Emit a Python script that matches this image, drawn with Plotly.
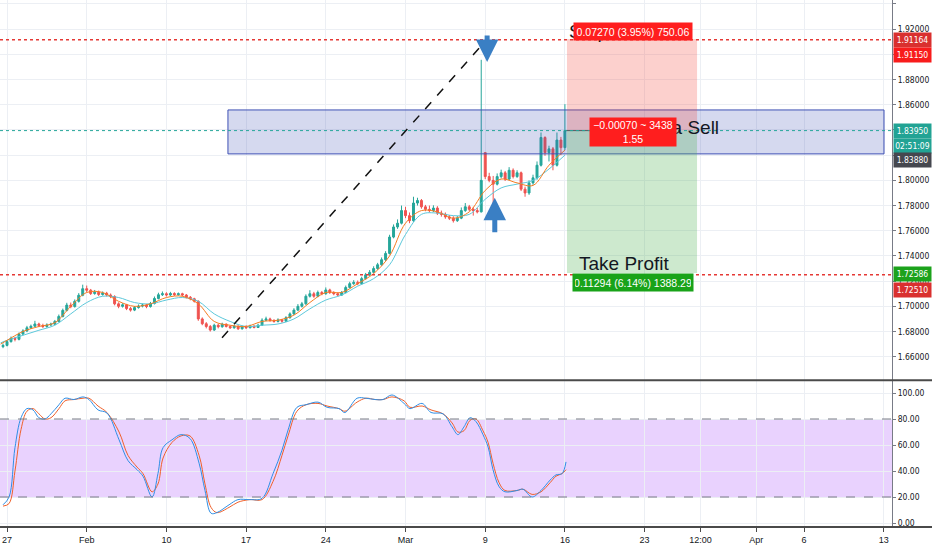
import plotly.graph_objects as go
import numpy as np

# ---- data (4 candles per trading day, day 0 = Jan 27) ----
closes = [
    1.6690, 1.6720, 1.6745, 1.6738, 1.6780, 1.6805, 1.6830, 1.6842, 1.6860, 1.6848,
    1.6840, 1.6852, 1.6858, 1.6880, 1.6920, 1.6968, 1.7010, 1.6998, 1.7040, 1.7088,
    1.7140, 1.7128, 1.7102, 1.7112, 1.7094, 1.7104, 1.7090, 1.7078, 1.7020, 1.7000,
    1.7012, 1.6982, 1.6970, 1.6990, 1.7002, 1.7010, 1.6998, 1.7022, 1.7062, 1.7092,
    1.7100, 1.7090, 1.7102, 1.7092, 1.7100, 1.7090, 1.7072, 1.7060, 1.7040, 1.6900,
    1.6862, 1.6840, 1.6812, 1.6850, 1.6838, 1.6858, 1.6840, 1.6830, 1.6842, 1.6822,
    1.6838, 1.6830, 1.6842, 1.6832, 1.6850, 1.6890, 1.6900, 1.6888, 1.6880, 1.6892,
    1.6882, 1.6910, 1.6940, 1.6970, 1.7000, 1.7020, 1.7080, 1.7100, 1.7080, 1.7110,
    1.7100, 1.7130, 1.7110, 1.7100, 1.7090, 1.7110, 1.7150, 1.7180, 1.7190, 1.7180,
    1.7220, 1.7250, 1.7270, 1.7300, 1.7330, 1.7370, 1.7420, 1.7550, 1.7630, 1.7660,
    1.7760, 1.7720, 1.7680, 1.7820, 1.7840, 1.7790, 1.7770, 1.7760, 1.7780, 1.7740,
    1.7730, 1.7710, 1.7700, 1.7680, 1.7700, 1.7760, 1.7790, 1.7770, 1.7760, 1.7750,
    1.8000, 1.8030, 1.8000, 1.7970, 1.8030, 1.8060, 1.8010, 1.8080, 1.8030, 1.8060,
    1.7930, 1.7900, 1.7980, 1.8020, 1.8120, 1.8340, 1.8220, 1.8250, 1.8120, 1.8320,
    1.8260, 1.8395,
]
highs = [
    1.6705, 1.6732, 1.6760, 1.6758, 1.6792, 1.6818, 1.6845, 1.6855, 1.6885, 1.6870,
    1.6862, 1.6865, 1.6870, 1.6892, 1.6935, 1.6982, 1.7028, 1.7030, 1.7055, 1.7105,
    1.7172, 1.7165, 1.7138, 1.7130, 1.7125, 1.7118, 1.7115, 1.7102, 1.7088, 1.7032,
    1.7025, 1.7020, 1.6995, 1.7002, 1.7015, 1.7022, 1.7020, 1.7035, 1.7078, 1.7108,
    1.7118, 1.7112, 1.7115, 1.7112, 1.7110, 1.7108, 1.7098, 1.7082, 1.7068, 1.7048,
    1.6912, 1.6875, 1.6852, 1.6862, 1.6860, 1.6870, 1.6865, 1.6850, 1.6852, 1.6850,
    1.6848, 1.6850, 1.6855, 1.6850, 1.6862, 1.6905, 1.6918, 1.6910, 1.6898, 1.6905,
    1.6900, 1.6922, 1.6952, 1.6985, 1.7018, 1.7035, 1.7095, 1.7128, 1.7115, 1.7125,
    1.7122, 1.7150, 1.7140, 1.7120, 1.7112, 1.7122, 1.7165, 1.7195, 1.7208, 1.7205,
    1.7235, 1.7265, 1.7288, 1.7318, 1.7345, 1.7388, 1.7438, 1.7568, 1.7650, 1.7690,
    1.7800, 1.7790, 1.7745, 1.7870, 1.7862, 1.7852, 1.7805, 1.7800, 1.7802, 1.7795,
    1.7760, 1.7745, 1.7725, 1.7715, 1.7718, 1.7785, 1.7820, 1.7805, 1.7790, 1.7782,
    1.8957, 1.8225, 1.8060, 1.8035, 1.8055, 1.8085, 1.8075, 1.8105, 1.8095, 1.8080,
    1.8070, 1.7950, 1.8000, 1.8045, 1.8150, 1.8380, 1.8350, 1.8275, 1.8265, 1.8380,
    1.8345, 1.8605,
]
lows = [
    1.6668, 1.6682, 1.6712, 1.6722, 1.6730, 1.6770, 1.6795, 1.6820, 1.6835, 1.6835,
    1.6828, 1.6830, 1.6842, 1.6850, 1.6872, 1.6912, 1.6960, 1.6985, 1.6990, 1.7030,
    1.7080, 1.7112, 1.7090, 1.7092, 1.7082, 1.7085, 1.7078, 1.7065, 1.7008, 1.6985,
    1.6990, 1.6970, 1.6958, 1.6962, 1.6982, 1.6992, 1.6985, 1.6990, 1.7015, 1.7055,
    1.7082, 1.7078, 1.7080, 1.7082, 1.7085, 1.7078, 1.7062, 1.7048, 1.7030, 1.6885,
    1.6850, 1.6825, 1.6800, 1.6805, 1.6825, 1.6830, 1.6832, 1.6820, 1.6822, 1.6812,
    1.6815, 1.6822, 1.6825, 1.6825, 1.6828, 1.6845, 1.6882, 1.6878, 1.6870, 1.6872,
    1.6870, 1.6875, 1.6902, 1.6932, 1.6962, 1.6990, 1.7012, 1.7070, 1.7068, 1.7072,
    1.7088, 1.7092, 1.7098, 1.7088, 1.7078, 1.7082, 1.7102, 1.7142, 1.7170, 1.7168,
    1.7172, 1.7212, 1.7240, 1.7262, 1.7290, 1.7322, 1.7360, 1.7412, 1.7540, 1.7615,
    1.7650, 1.7700, 1.7660, 1.7670, 1.7800, 1.7775, 1.7755, 1.7745, 1.7748, 1.7725,
    1.7712, 1.7695, 1.7685, 1.7665, 1.7670, 1.7692, 1.7750, 1.7755, 1.7720, 1.7738,
    1.7745, 1.8010, 1.7985, 1.7780, 1.7960, 1.8015, 1.7995, 1.8000, 1.8015, 1.8020,
    1.7915, 1.7870, 1.7885, 1.7965, 1.8005, 1.8110, 1.8195, 1.8150, 1.8080, 1.8110,
    1.8200, 1.8240,
]
first_open = 1.6680
gap_opens = {121: 1.8220}  # Monday Mar 9 gap

# moving averages (read once per trading day)
ma_days = [-0.4] + list(range(36))
ma_fast = [1.670, 1.673, 1.680, 1.684, 1.687, 1.700, 1.711, 1.711, 1.704, 1.700,
           1.702, 1.707, 1.708, 1.702, 1.688, 1.685, 1.684, 1.688, 1.689, 1.693,
           1.703, 1.711, 1.711, 1.718, 1.726, 1.740, 1.766, 1.776, 1.775, 1.770,
           1.775, 1.792, 1.801, 1.798, 1.796, 1.812, 1.824]
ma_slow = [1.671, 1.673, 1.677, 1.681, 1.685, 1.694, 1.703, 1.708, 1.707, 1.703,
           1.702, 1.705, 1.707, 1.704, 1.694, 1.688, 1.684, 1.685, 1.686, 1.690,
           1.698, 1.705, 1.709, 1.716, 1.722, 1.733, 1.757, 1.773, 1.774, 1.772,
           1.773, 1.785, 1.794, 1.797, 1.800, 1.809, 1.820]

# stochastic
stoch_days = [-0.25, 0.13, 0.5, 0.88, 1.25, 1.63, 2.0, 2.38, 2.76, 3.26,
              3.64, 4.2, 4.77, 5.14, 5.71, 6.27, 7.03, 7.59, 8.16, 8.53,
              9.1, 9.47, 9.79, 10.35, 10.92, 11.48, 12.05, 12.42, 12.8, 13.17,
              13.93, 14.49, 15.24, 16.0, 16.69, 17.25, 17.63, 18.19, 18.76, 19.51,
              20.08, 20.83, 21.2, 21.96, 22.52, 23.09, 23.59, 24.15, 24.91, 25.28,
              26.04, 26.6, 27.35, 27.92, 28.29, 28.67, 29.05, 29.42, 29.86, 30.18,
              30.49, 30.87, 31.24, 31.99, 32.37, 32.94, 33.5, 34.07, 34.44, 34.82,
              35.07]
stoch_k = [14, 20, 58, 81, 88, 87, 81, 80, 84, 91,
           96, 95, 97, 95, 87, 84.6, 64, 48, 41, 36,
           20, 38, 58, 64, 68, 65, 46, 25, 7.5, 8,
           14, 18, 18, 19, 38, 56, 71.5, 89, 91, 93,
           89, 88, 85, 96, 96, 95, 95, 98.5, 92, 88,
           92, 85, 84, 74, 68, 74, 81, 78, 68, 58.5,
           41, 28, 24, 25, 26, 20, 25, 33, 37, 38,
           47]
stoch_d = [13, 15, 40, 72, 86, 88, 84, 80, 81, 88,
           94, 95, 96, 96, 90, 85, 70, 52, 43, 38,
           24, 30, 50, 62, 67, 67, 52, 30, 12, 8,
           12, 16, 18, 18, 32, 52, 67, 86, 91, 92,
           90, 88, 86, 93, 96, 95, 95, 97, 94, 89,
           90, 87, 84, 77, 70, 71, 79, 80, 71, 62,
           46, 31, 25, 25, 26, 22, 24, 31, 36, 38,
           41]

tick_days = [0, 5, 10, 15, 20, 25, 30, 35, 40, 43.5, 47, 50, 55]
tick_text = ["27", "Feb", "10", "17", "24", "Mar", "9", "16", "23", "12:00", "Apr", "6", "13"]

# drawings
entry = 1.8395
stop_dist, stop_pct, stop_amt = 0.07270, 3.95, 750.06
tp_dist, tp_pct, tp_amt = 0.11294, 6.14, 1388.29
pos_days = (35.13, 43.29)
resist_level = 1.91164
support_level = 1.72510
zone_days = (13.86, 55.02)
zone_prices = (1.8210, 1.8559)
trend_days = (13.49, 29.8)
trend_prices = (1.6751, 1.9075)
side_tags = [("1.91164", 1.91164, 0, "#d9302f"), ("1.91150", 1.91150, -15, "#f81c1c"),
             ("1.83950", 1.83950, 0, "#22a394"), ("02:51:09", 1.83950, -15, "#22a394"),
             ("1.83880", 1.83880, -29, "#45474f"),
             ("1.72586", 1.72586, 0, "#1ca21c"), ("1.72510", 1.72510, -15, "#d9302f")]

# ---- build ----
opens = [first_open] + closes[:-1]
for k, v in gap_opens.items():
    opens[k] = v
candle_x = np.arange(len(closes)) / 4 - 0.25

x_range = [-0.44, 55.52]
FONT = "Liberation Sans, Arial, sans-serif"
AXFONT = "Liberation Sans Narrow, DejaVu Sans Condensed, Liberation Sans, sans-serif"

fig = go.Figure()
fig.add_trace(go.Candlestick(
    x=candle_x, open=opens, high=highs, low=lows, close=closes,
    increasing=dict(line=dict(color="#26a69a", width=1), fillcolor="#26a69a"),
    decreasing=dict(line=dict(color="#ef5350", width=1), fillcolor="#ef5350"),
    whiskerwidth=0, xaxis="x", yaxis="y", showlegend=False,
))
fig.add_trace(go.Scatter(x=ma_days, y=ma_slow, mode="lines", line=dict(color="#5cc8da", width=1, shape="spline"),
                         xaxis="x", yaxis="y", showlegend=False))
fig.add_trace(go.Scatter(x=ma_days, y=ma_fast, mode="lines", line=dict(color="#f57c20", width=1, shape="spline"),
                         xaxis="x", yaxis="y", showlegend=False))
fig.add_trace(go.Scatter(x=stoch_days, y=stoch_d, mode="lines", line=dict(color="#f0602a", width=1, shape="spline"),
                         xaxis="x", yaxis="y2", showlegend=False))
fig.add_trace(go.Scatter(x=stoch_days, y=stoch_k, mode="lines", line=dict(color="#2f8fe6", width=1, shape="spline"),
                         xaxis="x", yaxis="y2", showlegend=False))

shapes = []
# stochastic band
shapes.append(dict(type="rect", xref="x", yref="y2", x0=x_range[0], x1=x_range[1], y0=20, y1=80,
                   fillcolor="rgba(153,50,250,0.22)", line=dict(width=0), layer="below"))
for lvl in (20, 80):
    shapes.append(dict(type="line", xref="x", yref="y2", x0=x_range[0], x1=x_range[1], y0=lvl, y1=lvl,
                       line=dict(color="#787b86", width=1, dash="dash")))
# sell zone
shapes.append(dict(type="rect", xref="x", yref="y", x0=zone_days[0], x1=zone_days[1],
                   y0=zone_prices[0], y1=zone_prices[1],
                   fillcolor="rgba(63,81,181,0.22)", line=dict(color="#3f51b5", width=1)))
# short position tool
shapes.append(dict(type="rect", xref="x", yref="y", x0=pos_days[0], x1=pos_days[1],
                   y0=entry, y1=entry + stop_dist, fillcolor="rgba(244,67,54,0.25)", line=dict(width=0)))
shapes.append(dict(type="rect", xref="x", yref="y", x0=pos_days[0], x1=pos_days[1],
                   y0=entry - tp_dist, y1=entry, fillcolor="rgba(76,175,80,0.28)", line=dict(width=0)))
shapes.append(dict(type="line", xref="x", yref="y", x0=candle_x[-1], x1=pos_days[0] + 1.5, y0=entry, y1=entry,
                   line=dict(color="#555861", width=1)))
# horizontal levels
for lvl in (resist_level, support_level):
    shapes.append(dict(type="line", xref="x", yref="y", x0=x_range[0], x1=x_range[1], y0=lvl, y1=lvl,
                       line=dict(color="#e53935", width=1.5, dash="dot")))
shapes.append(dict(type="line", xref="x", yref="y", x0=x_range[0], x1=x_range[1], y0=entry, y1=entry,
                   line=dict(color="#26a69a", width=1, dash="dot")))
# trend line
shapes.append(dict(type="line", xref="x", yref="y", x0=trend_days[0], x1=trend_days[1],
                   y0=trend_prices[0], y1=trend_prices[1], line=dict(color="#111111", width=1.5, dash="dash")))
# pane separator and bottom line
shapes.append(dict(type="line", xref="paper", yref="paper", x0=0, x1=1.05, y0=0.2785, y1=0.2785,
                   line=dict(color="#4a4a4a", width=2)))
shapes.append(dict(type="line", xref="paper", yref="paper", x0=0, x1=1.05, y0=0, y1=0,
                   line=dict(color="#4a4a4a", width=2)))

ann = []
stop_label_y = entry + stop_dist + 0.0058
ann.append(dict(x=pos_days[0], y=stop_label_y, xref="x", yref="y", text="Stop Loss",
                showarrow=False, xanchor="left", font=dict(size=19, color="#131722", family=FONT)))
ann.append(dict(x=44.8, y=1.8417, xref="x", yref="y", text="Area Sell", showarrow=False, xanchor="right",
                font=dict(size=19, color="#131722", family=FONT)))
ann.append(dict(x=pos_days[0] + 0.6, y=entry - tp_dist + 0.0078, xref="x", yref="y", text="Take Profit",
                showarrow=False, xanchor="left", font=dict(size=19, color="#131722", family=FONT)))
ann.append(dict(x=39.27, y=stop_label_y, xref="x", yref="y",
                text=f"{stop_dist:.5f} ({stop_pct:.2f}%) {stop_amt:.2f}", showarrow=False,
                bgcolor="#ff1e1e", borderpad=2, width=114, height=13,
                font=dict(size=10.5, color="white", family=FONT)))
ann.append(dict(x=39.27, y=entry - tp_dist - 0.0078, xref="x", yref="y",
                text=f"{tp_dist:.5f} ({tp_pct:.2f}%) {tp_amt:.2f}", showarrow=False,
                bgcolor="#19a319", borderpad=2, width=116, height=13,
                font=dict(size=10.5, color="white", family=FONT)))
ann.append(dict(x=39.27, y=entry - 0.001, xref="x", yref="y",
                text="\u22120.00070 ~ 3438<br>1.55", showarrow=False,
                bgcolor="#ff1e1e", borderpad=1, width=84, font=dict(size=10.5, color="white", family=FONT)))
# arrows
ann.append(dict(x=30.12, y=1.8940, xref="x", yref="y", ax=0, ay=-28, showarrow=True, text="",
                arrowhead=2, arrowsize=0.9, arrowwidth=5, arrowcolor="#3a7fc4"))
ann.append(dict(x=30.6, y=1.7861, xref="x", yref="y", ax=0, ay=36, showarrow=True, text="",
                arrowhead=2, arrowsize=0.9, arrowwidth=5, arrowcolor="#3a7fc4"))
# price tags on the right axis
for txt, lvl, shift, col in side_tags:
    ann.append(dict(x=1.001, y=lvl, xref="paper", yref="y", yshift=shift, text=txt, showarrow=False,
                    xanchor="left", bgcolor=col, width=35, height=12, borderpad=1,
                    font=dict(size=8.5, color="white", family=AXFONT)))

axis_font = dict(size=8.5, color="#131722", family=AXFONT)
fig.update_layout(
    width=932, height=550,
    margin=dict(l=0, r=40, t=0, b=23),
    paper_bgcolor="white", plot_bgcolor="white",
    shapes=shapes, annotations=ann, showlegend=False,
    xaxis=dict(range=x_range, anchor="y2", tickvals=tick_days, ticktext=tick_text,
               showgrid=True, gridcolor="#eceff4", zeroline=False, ticks="outside", ticklen=4,
               tickcolor="#4a4a4a", tickfont=dict(size=9, color="#131722", family=FONT),
               rangeslider=dict(visible=False), fixedrange=True),
    yaxis=dict(domain=[0.2795, 1], range=[1.64176, 1.94317], side="right", anchor="x",
               tickvals=[round(1.66 + 0.02 * k, 2) for k in range(15)], tickformat=".5f",
               showgrid=True, gridcolor="#eceff4", zeroline=False, ticks="outside", ticklen=3,
               tickcolor="#787b86", showline=True, linecolor="#787b86", tickfont=axis_font),
    yaxis2=dict(domain=[0, 0.277], range=[-3.08, 109.23], side="right", anchor="x",
                tickvals=[0, 20, 40, 60, 80, 100], tickformat=".2f",
                showgrid=True, gridcolor="#eceff4", zeroline=False, ticks="outside", ticklen=3,
                tickcolor="#787b86", showline=True, linecolor="#787b86", tickfont=axis_font),
)

fig.write_html("out.html", config={"displayModeBar": False},
               post_script="document.body.style.margin='0';document.body.style.overflow='hidden';")
